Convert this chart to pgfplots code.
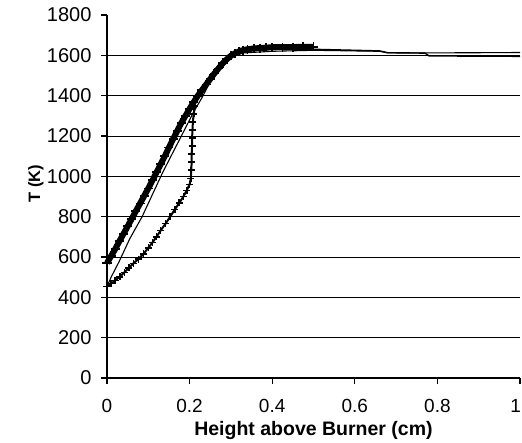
\documentclass[border=0pt]{standalone}
\usepackage{pgfplots}
\pgfplotsset{compat=1.18}
\usepackage{fontspec}
\setmainfont{Liberation Sans}
\begin{document}
\begin{tikzpicture}
\useasboundingbox (0,0) rectangle (522bp,443bp);
\begin{axis}[
  at={(107bp,65bp)}, anchor=south west,
  width=413bp, height=363bp, scale only axis,
  xmin=0, xmax=1, ymin=0, ymax=1800,
  axis x line=bottom, axis y line=left,
  axis line style={-, black, line width=1.3bp},
  xtick={0,0.2,0.4,0.6,0.8,1},
  xticklabels={0,0.2,0.4,0.6,0.8,\makebox[0pt][r]{1\hspace{-1bp}}},
  ytick={0,200,400,600,800,1000,1200,1400,1600},
  extra y ticks={1800},
  extra y tick style={grid=none},
  ymajorgrids,
  grid style={black, line width=0.9bp},
  tick align=outside,
  major tick length=6bp,
  tick style={black, line width=1.2bp},
  /pgf/number format/assume math mode=true,
  /pgf/number format/1000 sep={},
  xticklabel style={font=\fontsize{19bp}{21bp}\selectfont, yshift=-12bp},
  yticklabel style={font=\fontsize{20bp}{22bp}\selectfont, xshift=-6bp},
  xlabel={Height above Burner (cm)},
  ylabel={T (K)},
  xlabel style={font=\bfseries\fontsize{19.5bp}{22bp}\selectfont, at={(axis description cs:0.5,-0.145)}, anchor=center},
  ylabel style={font=\bfseries\fontsize{16.5bp}{18bp}\selectfont, at={(axis description cs:-0.172,0.536)}, anchor=center, rotate=0},
  clip=false,
]
% thin simulation line 1
\addplot[black, line width=1.1bp, mark=none] coordinates {
(0,453) (0.01,500) (0.03,580) (0.055,690) (0.085,800) (0.11,910) (0.135,1020)
(0.16,1120) (0.185,1220) (0.21,1320) (0.23,1390) (0.25,1470) (0.28,1550) (0.3,1590)
(0.33,1612) (0.4,1620) (0.5,1625) (0.66,1620) (0.68,1612) (0.77,1612) (0.9,1613) (1,1614)
};
% thin simulation line 2
\addplot[black, line width=1.4bp, mark=none] coordinates {
(0.45,1628) (0.5,1630) (0.66,1622) (0.68,1613) (0.77,1611) (0.78,1597) (0.9,1596) (1,1595)
};
% lower measured curve
\addplot[black, line width=2bp, mark=+, mark size=3.5bp, mark options={line width=1.6bp}] coordinates {
(0,453) (0.01,468) (0.02,484) (0.031,502) (0.042,524) (0.053,546) (0.064,568) (0.076,590)
(0.088,615) (0.1,645) (0.11,672) (0.12,700) (0.13,732) (0.142,766) (0.153,800)
(0.164,835) (0.175,868) (0.185,900) (0.193,930) (0.2,960) (0.203,990) (0.204,1030)
(0.205,1070) (0.205,1110) (0.206,1150) (0.206,1190) (0.207,1230) (0.208,1270)
(0.21,1310) (0.213,1350)
};
% upper measured curve (dense band)
\addplot[black, line width=6bp, mark=+, mark size=4.5bp, mark options={line width=1.8bp}] coordinates {
(0,570) (0.01,605) (0.02,640) (0.03,678) (0.04,715) (0.05,752) (0.06,790) (0.07,828)
(0.08,865) (0.09,903) (0.1,940) (0.11,980) (0.12,1020) (0.13,1060) (0.14,1100)
(0.15,1143) (0.16,1185) (0.17,1225) (0.18,1265) (0.19,1300) (0.2,1335) (0.21,1368)
(0.22,1400) (0.23,1428) (0.24,1455) (0.25,1483) (0.26,1510) (0.27,1535) (0.28,1560)
(0.29,1580) (0.3,1598) (0.31,1610) (0.32,1620) (0.33,1626) (0.34,1630) (0.355,1634)
(0.37,1636) (0.385,1638) (0.4,1640) (0.425,1641) (0.45,1641) (0.475,1642) (0.5,1642)
};
\end{axis}
\end{tikzpicture}
\end{document}
